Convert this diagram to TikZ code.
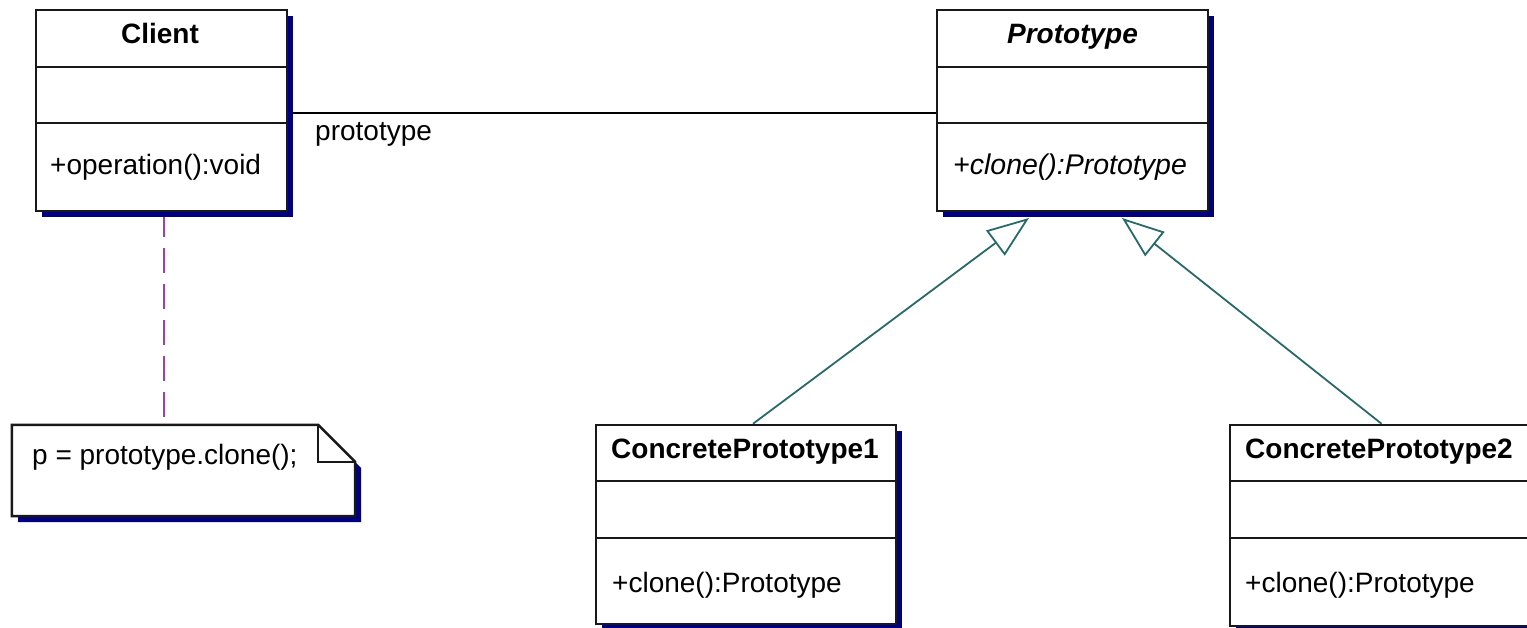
\documentclass[tikz,border=0pt]{standalone}
\usepackage{fontspec}
\setmainfont{Liberation Sans}
\usetikzlibrary{arrows.meta,shadows}
\pgfdeclarelayer{bg}
\pgfsetlayers{bg,main}
\definecolor{shadowblue}{RGB}{0,0,128}
\definecolor{genteal}{RGB}{40,105,105}
\definecolor{notepurple}{RGB}{165,60,175}
\definecolor{boxline}{RGB}{25,25,25}
\tikzset{
  classbox/.style={draw=boxline, line width=2.5pt, fill=white, inner sep=0pt,
    drop shadow={shadow xshift=6pt, shadow yshift=-6pt, fill=shadowblue, opacity=1}},
  divider/.style={draw=boxline, line width=2.5pt},
  umltext/.style={inner sep=0pt, font=\fontsize{28}{32}\selectfont},
  italtext/.style={inner sep=0pt, font=\fontsize{28.5}{32}\selectfont\itshape},
  titletext/.style={inner sep=0pt, font=\fontsize{28}{32}\selectfont\bfseries},
  italtitle/.style={inner sep=0pt, font=\fontsize{28}{32}\selectfont\bfseries\itshape},
  assocline/.style={draw=black, line width=2pt},
  noteline/.style={draw=notepurple, line width=2.4pt, dash pattern=on 25pt off 11pt},
  genline/.style={draw=genteal, line width=1.8pt,
    -{Triangle[length=42pt,width=31pt,fill=white,line width=1.8pt]}},
}
\begin{document}
\begin{tikzpicture}[x=1pt,y=-1pt]
\useasboundingbox (0,0) rectangle (1527,628);
\coordinate (ay) at (0,113);
\coordinate (nx) at (164,0);
\coordinate (g1) at (1029,218);
\coordinate (g2) at (1122,218);

% Client
\node[classbox, minimum width=251pt, minimum height=201pt] (client) at (161.5,110.5) {};
\draw[divider] (36,67) -- (287,67);
\draw[divider] (36,123) -- (287,123);
\node[titletext, anchor=base] (clientname) at (160,44) {Client};
\node[umltext, anchor=base west] (clientop) at (50,175) {+operation():void};

% Prototype
\node[classbox, minimum width=271pt, minimum height=201pt] (proto) at (1072.5,110.5) {};
\draw[divider] (937,67) -- (1208,67);
\draw[divider] (937,123) -- (1208,123);
\node[italtitle, anchor=base] (protoname) at (1072.5,44) {Prototype};
\node[italtext, anchor=base west] (protoop) at (953,175) {+clone():Prototype};

% ConcretePrototype1
\node[classbox, minimum width=300pt, minimum height=199pt] (cp1) at (746,524.5) {};
\draw[divider] (596,481) -- (896,481);
\draw[divider] (596,538) -- (896,538);
\node[titletext, anchor=base] (cp1name) at (745,458) {ConcretePrototype1};
\node[umltext, anchor=base west] (cp1op) at (612,592) {+clone():Prototype};

% ConcretePrototype2
\node[classbox, minimum width=299pt, minimum height=201pt] (cp2) at (1379.5,525.5) {};
\draw[divider] (1230,481) -- (1529,481);
\draw[divider] (1230,538) -- (1529,538);
\node[titletext, anchor=base] (cp2name) at (1379,458) {ConcretePrototype2};
\node[umltext, anchor=base west] (cp2op) at (1245,592) {+clone():Prototype};

% Note
\node[inner sep=0pt, minimum width=343pt, minimum height=91pt] (note) at (183.5,470.5) {};
\fill[shadowblue] (18,431) -- (324,431) -- (361,468) -- (361,522) -- (18,522) -- cycle;
\draw[draw=boxline, line width=2.5pt, fill=white]
  (note.north west) -- ([xshift=-37pt]note.north east) -- ([yshift=-37pt]note.north east)
  -- (note.south east) -- (note.south west) -- cycle;
\draw[draw=boxline, line width=2.5pt]
  ([xshift=-37pt]note.north east) -- ([xshift=-37pt,yshift=-37pt]note.north east)
  -- ([yshift=-37pt]note.north east);
\node[umltext, anchor=base west] (notetext) at (32,464) {p = prototype.clone();};

% association label
\node[umltext, anchor=base west] (assoclabel) at (315,141) {prototype};

% connectors
\begin{pgfonlayer}{bg}
\draw[assocline] (client.east |- ay) -- (proto.west |- ay);
\draw[noteline] (client.south -| nx) -- (note.north -| nx);
\draw[genline] ([xshift=7pt]cp1.north) -- (g1);
\draw[genline] ([xshift=2pt]cp2.north) -- (g2);
\end{pgfonlayer}
\end{tikzpicture}
\end{document}
